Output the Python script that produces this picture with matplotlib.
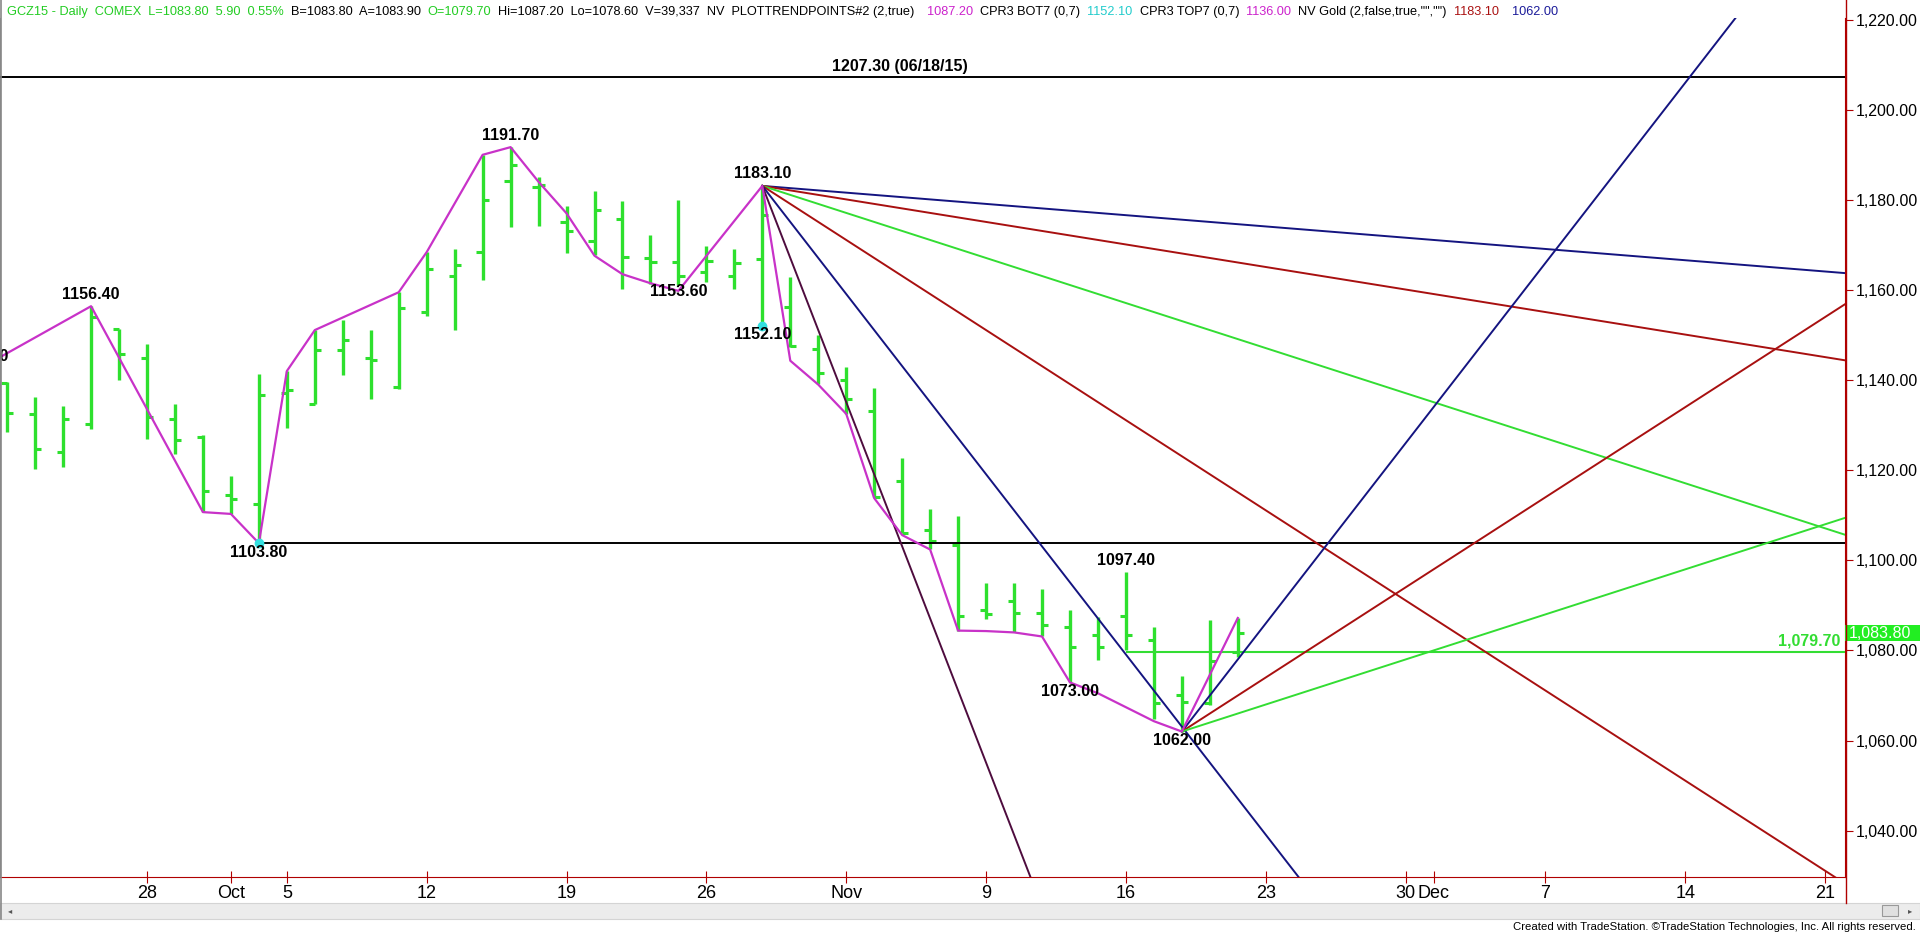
import numpy as np
import pandas as pd
import matplotlib
matplotlib.use('Agg')
import matplotlib.pyplot as plt
from matplotlib import font_manager
from matplotlib.lines import Line2D
from matplotlib.patches import Rectangle

# daily bars GCZ15, Sep 21 - Nov 20 2015
bar_dates = pd.bdate_range('2015-09-21', '2015-11-20')
opens = [1139.3, 1132.5, 1124.0, 1130.3, 1151.3,
         1145.0, 1131.4, 1127.4, 1114.6, 1112.6,
         1137.1, 1134.8, 1146.6, 1145.0, 1138.4,
         1155.1, 1163.0, 1168.4, 1184.1, 1182.9,
         1175.1, 1170.8, 1175.7, 1167.0, 1166.1,
         1164.0, 1163.1, 1166.8, 1156.2, 1146.8,
         1140.0, 1133.1, 1117.5, 1106.8, 1103.3,
         1089.0, 1090.9, 1088.4, 1085.3, 1083.5,
         1087.7, 1082.4, 1070.1, 1068.3, 1079.7]
highs = [1139.6, 1136.2, 1134.2, 1156.4, 1151.3,
         1148.1, 1134.6, 1127.9, 1118.8, 1141.3,
         1142.0, 1151.1, 1153.3, 1151.2, 1159.5,
         1168.4, 1169.0, 1190.0, 1191.7, 1185.1,
         1178.6, 1181.9, 1179.7, 1172.2, 1179.9,
         1169.7, 1169.2, 1183.1, 1162.9, 1150.1,
         1142.9, 1138.3, 1122.6, 1111.4, 1109.8,
         1095.0, 1095.0, 1093.7, 1089.0, 1087.5,
         1097.4, 1085.2, 1074.4, 1086.8, 1087.2]
lows = [1128.5, 1120.3, 1120.8, 1129.2, 1140.0,
        1127.0, 1123.7, 1110.7, 1110.3, 1103.8,
        1129.4, 1134.8, 1141.2, 1135.7, 1138.1,
        1154.2, 1151.1, 1162.3, 1173.9, 1174.2,
        1168.2, 1167.7, 1160.3, 1161.4, 1161.0,
        1161.8, 1160.3, 1152.1, 1147.3, 1139.2,
        1132.5, 1114.0, 1106.0, 1102.6, 1084.4,
        1087.0, 1084.0, 1083.1, 1072.9, 1077.9,
        1080.0, 1064.7, 1062.0, 1067.9, 1078.6]
closes = [1132.8, 1124.8, 1131.4, 1154.0, 1145.7,
          1131.8, 1126.8, 1115.3, 1113.7, 1136.6,
          1137.7, 1146.6, 1148.8, 1144.4, 1156.1,
          1164.6, 1165.5, 1179.9, 1187.7, 1183.3,
          1173.0, 1177.7, 1167.3, 1166.2, 1163.0,
          1166.4, 1165.9, 1176.6, 1147.5, 1141.6,
          1135.9, 1114.0, 1106.1, 1104.3, 1087.7,
          1088.1, 1088.4, 1085.7, 1080.8, 1080.8,
          1083.5, 1068.3, 1068.5, 1077.7, 1083.8]

# PLOTTRENDPOINTS swing line
swing_dates = ['2015-09-18', '2015-09-24', '2015-09-30', '2015-10-01', '2015-10-02',
               '2015-10-05', '2015-10-06', '2015-10-09', '2015-10-12', '2015-10-14',
               '2015-10-15', '2015-10-16', '2015-10-19', '2015-10-20', '2015-10-21',
               '2015-10-22', '2015-10-23', '2015-10-28', '2015-10-29', '2015-10-30',
               '2015-11-02', '2015-11-03', '2015-11-04', '2015-11-05', '2015-11-06',
               '2015-11-09', '2015-11-10', '2015-11-11', '2015-11-12', '2015-11-13',
               '2015-11-17', '2015-11-18', '2015-11-20']
swing_prices = [1142.5, 1156.4, 1110.7, 1110.3, 1103.8,
                1142.0, 1151.1, 1159.5, 1168.4, 1190.0,
                1191.7, 1184.0, 1177.0, 1167.6, 1163.5,
                1161.5, 1159.8, 1183.1, 1144.3, 1139.0,
                1132.5, 1113.8, 1105.6, 1102.4, 1084.4,
                1084.3, 1084.0, 1083.1, 1072.9, 1070.5,
                1064.3, 1062.0, 1087.2]

# pivot labels
label_dates = ['2015-09-18', '2015-09-24', '2015-10-02', '2015-10-15', '2015-10-23',
               '2015-10-28', '2015-10-28', '2015-11-12', '2015-11-16', '2015-11-18']
label_prices = [1142.5, 1156.4, 1103.8, 1191.7, 1161.6, 1183.1, 1152.1, 1073.0, 1097.4, 1062.0]
label_texts = ['1142.50', '1156.40', '1103.80', '1191.70', '1153.60',
               '1183.10', '1152.10', '1073.00', '1097.40', '1062.00']
label_above = [True, True, False, True, False, True, False, False, True, False]

# Gann fans
fan_down_date, fan_down_price = '2015-10-28', 1183.10
fan_down_slopes = [-0.5, -1, -2, -4, -8, -16]
fan_down_colors = ['#141480', '#A81010', '#33DD33', '#A81010', '#141480', '#4E0C3E']
fan_up_date, fan_up_price = '2015-11-18', 1062.00
fan_up_slopes = [8, 4, 2]
fan_up_colors = ['#141480', '#A81010', '#33DD33']

old_high, old_high_label = 1207.30, '1207.30 (06/18/15)'
support_date, support_price = '2015-10-02', 1103.80
open_date, open_price = '2015-11-16', 1079.70
last_price = 1083.80
dot_dates = ['2015-10-02', '2015-10-28']
dot_prices = [1103.8, 1152.1]

tick_dates = ['2015-09-28', '2015-10-01', '2015-10-05', '2015-10-12', '2015-10-19', '2015-10-26',
              '2015-11-02', '2015-11-09', '2015-11-16', '2015-11-23', '2015-11-30', '2015-12-01',
              '2015-12-07', '2015-12-14', '2015-12-21']
tick_labels = ['28', 'Oct', '5', '12', '19', '26', 'Nov', '9', '16', '23', '30', 'Dec', '7', '14', '21']
price_ticks = np.arange(1040, 1221, 20)

header = [('GCZ15 - Daily  COMEX  L=1083.80  5.90  0.55%', '#22CC22'),
          ('B=1083.80  A=1083.90', 'black'),
          ('O=1079.70', '#22CC22'),
          ('Hi=1087.20  Lo=1078.60  V=39,337  NV  PLOTTRENDPOINTS#2 (2,true)', 'black'),
          ('1087.20', '#CC22CC'),
          ('CPR3 BOT7 (0,7)', 'black'),
          ('1152.10', '#22CCCC'),
          ('CPR3 TOP7 (0,7)', 'black'),
          ('1136.00', '#CC22CC'),
          ('NV Gold (2,false,true,"","")', 'black'),
          ('1183.10', '#AA1111'),
          ('1062.00', '#1A1A99')]
header_x = [4, 230, 371, 448, 927, 980, 1080, 1131, 1231, 1280, 1449, 1512]

# trading-day index, Sep 28 = 0
days = pd.bdate_range('2015-09-01', '2015-12-31')
pos = {d: i for i, d in enumerate(days)}
origin = pos[pd.Timestamp('2015-09-28')]


def xi(d):
    return pos[pd.Timestamp(d)] - origin


names = {f.name for f in font_manager.fontManager.ttflist}
narrow = 'Liberation Sans Narrow' if 'Liberation Sans Narrow' in names else 'Liberation Sans'

W, H = 1920, 934
fig = plt.figure(figsize=(W / 100, H / 100), dpi=100)
ax = fig.add_axes([0, (H - 877) / H, 1845 / W, (877 - 18) / H])
ax.set_xlim(-5.256, 60.71)
ax.set_ylim(1029.72, 1220.36)

xb = np.array([xi(d) for d in bar_dates])
bar_c = '#2EE02E'
ax.vlines(xb, lows, highs, color=bar_c, lw=2.4, zorder=2)
ax.hlines(opens, xb - 0.22, xb, color=bar_c, lw=2.2, zorder=2)
ax.hlines(closes, xb, xb + 0.22, color=bar_c, lw=2.2, zorder=2)

# horizontal levels
ax.axhline(old_high, color='black', lw=1.4, zorder=3)
ax.annotate(old_high_label, (900 / 1845, old_high), xycoords=ax.get_yaxis_transform(),
            xytext=(0, 2), textcoords='offset points',
            ha='center', va='bottom', fontsize=11.5, fontweight='bold', family='Liberation Sans')
ax.hlines(support_price, xi(support_date), 62, color='black', lw=1.4, zorder=3)
ax.hlines(open_price, xi(open_date), 62, color='#33DD33', lw=1.5, zorder=3)
ax.annotate(f'{open_price:,.2f}', (1 - 5 / 1845, open_price), xycoords=ax.get_yaxis_transform(),
            xytext=(0, 8), textcoords='offset points', ha='right', va='center',
            color='#33DD33', fontsize=11.5, fontweight='bold', family='Liberation Sans')

# fans
x_end = 62
x0 = xi(fan_down_date)
for s, c in zip(fan_down_slopes, fan_down_colors):
    ax.plot([x0, x_end], [fan_down_price, fan_down_price + s * (x_end - x0)], color=c, lw=1.4, zorder=4)
x0 = xi(fan_up_date)
for s, c in zip(fan_up_slopes, fan_up_colors):
    ax.plot([x0, x_end], [fan_up_price, fan_up_price + s * (x_end - x0)], color=c, lw=1.4, zorder=4)

# swing line
ax.plot([xi(d) for d in swing_dates], swing_prices, color='#C832C8', lw=1.6, zorder=5)
ax.plot([xi(d) for d in dot_dates], dot_prices, 'o', color='#33E0E0', ms=6, zorder=6)

for d, p, t, up in zip(label_dates, label_prices, label_texts, label_above):
    ax.annotate(t, (xi(d), p), xytext=(0, 8.6 if up else -6.6), textcoords='offset points',
                ha='center', va='center', fontsize=11.5, fontweight='bold',
                family='Liberation Sans', zorder=7, annotation_clip=False, clip_on=True)

# last price box on the axis
ax.add_patch(Rectangle((1.0, last_price - 1.75), 75 / 1845, 3.5, transform=ax.get_yaxis_transform(),
                       facecolor='#22EE22', edgecolor='none', clip_on=False, zorder=8))
ax.text(1.0 + 4 / 1845, last_price, f'{last_price:,.2f}', transform=ax.get_yaxis_transform(),
        ha='left', va='center', color='white', fontsize=11.5, family='Liberation Sans', zorder=9)

# axes styling
ax.set_facecolor('white')
ax.yaxis.tick_right()
ax.set_yticks(price_ticks)
ax.set_yticklabels([f'{v:,.2f}' for v in price_ticks], family='Liberation Sans')
ax.tick_params(axis='y', direction='out', length=6, color='#B00000', labelsize=11.5, pad=2)
ax.set_xticks([xi(d) for d in tick_dates])
ax.set_xticklabels(tick_labels, family=narrow)
ax.tick_params(axis='x', direction='inout', length=8, color='#B00000', labelsize=13, pad=2)
ax.spines['top'].set_visible(False)
ax.spines['left'].set_color('#888888')
ax.spines['right'].set_color('#B00000')
ax.spines['bottom'].set_color('#B00000')

# frame bits outside the plot area
fig.add_artist(Line2D([1845.5 / W] * 2, [1 - 903 / H, 1], color='#B00000', lw=1))
fig.add_artist(Line2D([1 / W] * 2, [1 - 919 / H, 1], color='#888888', lw=1.2))
fig.add_artist(Rectangle((0, 1 - 919 / H), 1, 16 / H, facecolor='#ECECEC', edgecolor='#D4D4D4', lw=0.8))
fig.add_artist(Rectangle((1882 / W, 1 - 916 / H), 16 / W, 11 / H, facecolor='#E0E0E0', edgecolor='#999999', lw=0.8))
fig.text(1910 / W, 1 - 911 / H, '\u25b8', fontsize=6, color='#555555', ha='center', va='center')
fig.text(10 / W, 1 - 911 / H, '\u25c2', fontsize=6, color='#555555', ha='center', va='center')
fig.text(1916 / W, 1 - 927 / H, 'Created with TradeStation. \u00a9TradeStation Technologies, Inc. All rights reserved.',
         ha='right', va='center', fontsize=8.2, family=[narrow, 'DejaVu Sans'])

# status line: keep the reference spots where there is room, else follow on
renderer = fig.canvas.get_renderer()
cursor = 0
for (t, c), x in zip(header, header_x):
    x = max(x, cursor + 7)
    ht = fig.text(x / W, 1 - 12 / H, t, color=c, ha='left', va='center', fontsize=9.2, family=narrow)
    cursor = x + ht.get_window_extent(renderer).width

fig.savefig('out.png', dpi=100, facecolor='white')
